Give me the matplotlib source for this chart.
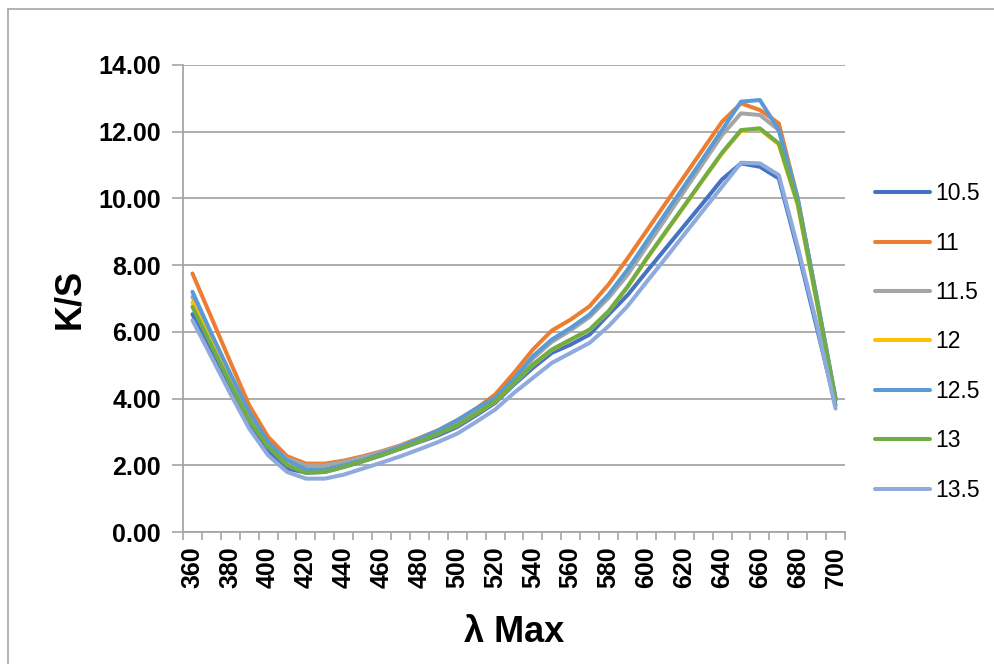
import matplotlib
matplotlib.use("Agg")
import matplotlib.pyplot as plt
from matplotlib.lines import Line2D

wavelengths = list(range(360, 701, 10))

s105 = [6.53, 5.40, 4.30, 3.25, 2.45, 1.90, 1.78, 1.80, 1.95, 2.12, 2.30, 2.50, 2.70, 2.90, 3.15, 3.50,
        3.87, 4.42, 4.92, 5.37, 5.62, 5.92, 6.52, 7.10, 7.80, 8.49, 9.18, 9.87, 10.57, 11.05, 10.95, 10.60,
        8.45, 6.15, 3.80]
s11 = [7.75, 6.43, 5.10, 3.80, 2.85, 2.27, 2.05, 2.05, 2.14, 2.27, 2.42, 2.60, 2.82, 3.05, 3.35, 3.70,
       4.12, 4.77, 5.47, 6.04, 6.37, 6.77, 7.42, 8.20, 9.02, 9.84, 10.66, 11.48, 12.30, 12.85, 12.65, 12.25,
       10.00, 7.00, 4.00]
s115 = [7.05, 5.85, 4.65, 3.50, 2.65, 2.20, 2.00, 2.00, 2.10, 2.24, 2.40, 2.58, 2.78, 3.00, 3.30, 3.65,
        3.98, 4.55, 5.20, 5.70, 6.05, 6.45, 7.02, 7.71, 8.55, 9.38, 10.22, 11.06, 11.90, 12.55, 12.50, 12.05,
        9.95, 7.00, 4.00]
s12 = [6.88, 5.68, 4.48, 3.38, 2.58, 2.03, 1.82, 1.83, 1.97, 2.14, 2.32, 2.52, 2.72, 2.95, 3.20, 3.55,
       3.91, 4.46, 5.01, 5.46, 5.76, 6.06, 6.61, 7.34, 8.17, 8.97, 9.76, 10.56, 11.35, 12.02, 12.07, 11.62,
       9.80, 6.92, 3.95]
s125 = [7.20, 5.95, 4.75, 3.60, 2.70, 2.15, 1.88, 1.88, 2.00, 2.15, 2.35, 2.55, 2.80, 3.05, 3.35, 3.70,
        4.02, 4.60, 5.27, 5.77, 6.12, 6.52, 7.12, 7.86, 8.70, 9.54, 10.37, 11.20, 12.05, 12.90, 12.95, 12.05,
        10.00, 7.05, 4.00]
s13 = [6.75, 5.60, 4.45, 3.35, 2.55, 2.00, 1.77, 1.80, 1.95, 2.12, 2.30, 2.50, 2.72, 2.95, 3.20, 3.55,
       3.92, 4.47, 5.02, 5.47, 5.77, 6.07, 6.62, 7.35, 8.19, 8.99, 9.78, 10.58, 11.37, 12.05, 12.10, 11.65,
       9.85, 6.95, 3.95]
s135 = [6.35, 5.25, 4.15, 3.10, 2.30, 1.80, 1.60, 1.60, 1.72, 1.90, 2.08, 2.27, 2.48, 2.70, 2.95, 3.30,
        3.67, 4.17, 4.62, 5.07, 5.37, 5.67, 6.17, 6.77, 7.49, 8.20, 8.92, 9.64, 10.35, 11.07, 11.05, 10.70,
        8.55, 6.25, 3.70]

names = ["10.5", "11", "11.5", "12", "12.5", "13", "13.5"]
series = [s105, s11, s115, s12, s125, s13, s135]
colors = ["#4472C4", "#ED7D31", "#A5A5A5", "#FFC000", "#5B9BD5", "#70AD47", "#8FAADC"]

plt.rcParams['font.family'] = ['Liberation Sans', 'DejaVu Sans']

fig = plt.figure(figsize=(9.95, 6.64), dpi=100)
ax = fig.add_axes([183 / 995, 1 - 532 / 664, (845 - 183) / 995, (532 - 65) / 664])

idx = list(range(len(wavelengths)))
for vals, name, col in zip(series, names, colors):
    ax.plot(idx, vals, color=col, lw=2.9, label=name, solid_capstyle='round', solid_joinstyle='round')

ax.set_xlim(-0.5, len(wavelengths) - 0.5)
ax.set_ylim(0, 14)
ax.set_yticks(range(0, 15, 2))
ax.set_yticklabels([f"{v:.2f}" for v in range(0, 15, 2)], fontsize=18, fontweight='bold')
ax.set_xticks(idx[::2])
ax.set_xticklabels([str(w) for w in wavelengths[::2]], rotation=90, fontsize=18, fontweight='bold')
ax.set_xticks([i - 0.5 for i in range(len(wavelengths) + 1)], minor=True)
ax.tick_params(axis='x', which='major', length=0, pad=10)
ax.tick_params(axis='x', which='minor', length=6, color='#a6a6a6', width=1.2)
ax.tick_params(axis='y', length=8, color='#a6a6a6', width=1.2, pad=8)

ax.grid(axis='y', color='#a6a6a6', lw=1.3)
ax.set_axisbelow(True)
for side in ['top', 'right']:
    ax.spines[side].set_visible(False)
for side in ['left', 'bottom']:
    ax.spines[side].set_color('#a6a6a6')
    ax.spines[side].set_linewidth(1.3)

ax.set_ylabel("K/S", fontsize=26, fontweight='bold', labelpad=8)
ax.set_xlabel("λ Max", fontsize=26, fontweight='bold', labelpad=20)

ax.legend(loc='center left', bbox_to_anchor=(875 / 995, 1 - 342 / 664), bbox_transform=fig.transFigure,
          frameon=False, fontsize=16.5, handlelength=2.4, handletextpad=0.25, labelspacing=1.15,
          borderpad=0, borderaxespad=0)

# outer chart border
fig.add_artist(Line2D([8 / 995, 1], [1 - 9 / 664, 1 - 9 / 664], color='#a6a6a6', lw=1.2))
fig.add_artist(Line2D([8 / 995, 8 / 995], [0, 1 - 9 / 664], color='#a6a6a6', lw=1.2))

fig.savefig("out.png", dpi=100)
